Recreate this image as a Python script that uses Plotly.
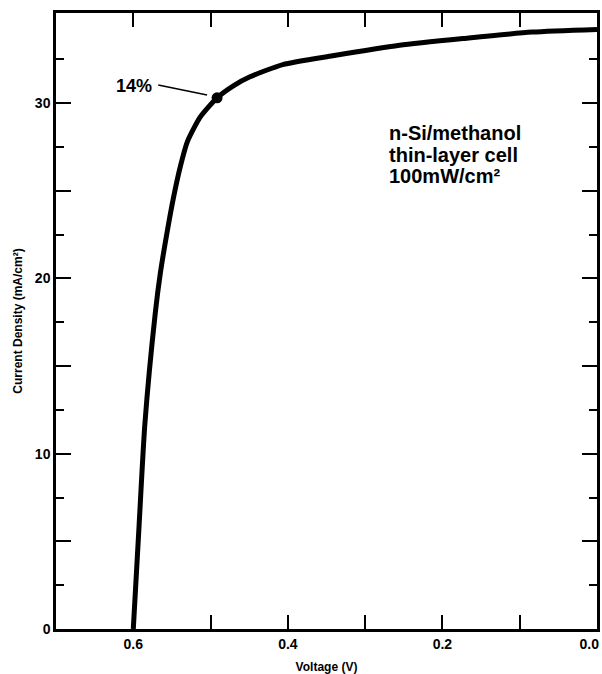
import plotly.graph_objects as go

# I-V curve data
voltage = [0.600, 0.5925, 0.585, 0.5716, 0.565, 0.556, 0.548, 0.539, 0.530,
           0.5135, 0.4916, 0.470, 0.449, 0.4065, 0.342, 0.2555, 0.169, 0.084, 0.0]
current = [0.0, 5.9, 11.7, 18.0, 20.3, 22.7, 24.6, 26.4, 27.8,
           29.2, 30.3, 31.0, 31.5, 32.2, 32.7, 33.3, 33.7, 34.05, 34.2]

# marked point (14% efficiency)
mp_voltage = [0.4916]
mp_current = [30.3]
mp_label = "14%"

x_tickvals = [0.6, 0.5, 0.4, 0.3, 0.2, 0.1, 0.0]
x_ticktext = ["0.6", "", "0.4", "", "0.2", "", "0.0\u00a0\u00a0\u00a0\u00a0"]
y_tickvals = [0, 5, 10, 15, 20, 25, 30]
y_ticktext = ["0", "", "10", "", "20", "", "30"]
y_minor_vals = [2.5, 7.5, 12.5, 17.5, 22.5, 27.5, 32.5]

info_lines = ["n-Si/methanol", "thin-layer cell", "100mW/cm²"]

FONT = "Liberation Sans, Arial, Helvetica, sans-serif"

fig = go.Figure()
fig.add_trace(go.Scatter(
    x=voltage, y=current, mode="lines",
    line=dict(color="black", width=5, shape="spline", smoothing=0.6),
    hoverinfo="skip", showlegend=False,
))
fig.add_trace(go.Scatter(
    x=mp_voltage, y=mp_current, mode="markers",
    marker=dict(color="black", size=11),
    showlegend=False,
))

# leader line for the 14% label
fig.add_shape(type="line", x0=0.5677, y0=31.03, x1=0.5045, y1=30.46,
              line=dict(color="black", width=1.5))
fig.add_annotation(x=0.5729, y=30.97, text=mp_label, showarrow=False,
                   xanchor="right", yanchor="middle",
                   font=dict(family=FONT, size=18, color="black", weight="bold"))

info_y = [28.29, 27.06, 25.83]
for txt, yy in zip(info_lines, info_y):
    fig.add_annotation(x=0.2723, y=yy, text=txt, showarrow=False,
                       xanchor="left", yanchor="middle",
                       font=dict(family=FONT, size=20, color="black", weight="bold"))

axis_common = dict(
    showline=True, linecolor="black", linewidth=2.5, mirror="ticks",
    ticks="inside", tickcolor="black", tickwidth=1.5,
    showgrid=False, zeroline=False, automargin=False,
    tickfont=dict(family=FONT, size=14, color="black", weight="bold"),
)

fig.update_xaxes(
    **axis_common,
    range=[0.7, 0.0], tickmode="array", tickvals=x_tickvals, ticktext=x_ticktext,
    ticklen=14, ticklabeloverflow="allow",
    title=dict(text="Voltage (V)", font=dict(family=FONT, size=12, color="black", weight="bold"),
               standoff=14),
)
fig.update_yaxes(
    **axis_common,
    range=[0, 35.14], tickmode="array", tickvals=y_tickvals, ticktext=y_ticktext,
    ticklen=15,
    minor=dict(ticks="inside", ticklen=8, tickcolor="black", tickwidth=1.5,
               tickmode="array", tickvals=y_minor_vals),
    title=dict(text="Current Density (mA/cm²)",
               font=dict(family=FONT, size=12, color="black", weight="bold"),
               standoff=10),
)

fig.update_layout(
    width=602, height=674,
    margin=dict(l=56, r=5, t=13, b=45),
    paper_bgcolor="white", plot_bgcolor="white",
    font=dict(family=FONT, color="black"),
)

fig.write_html("out.html", config={"displayModeBar": False},
               post_script="document.body.style.margin='0px';document.body.style.overflow='hidden';")
